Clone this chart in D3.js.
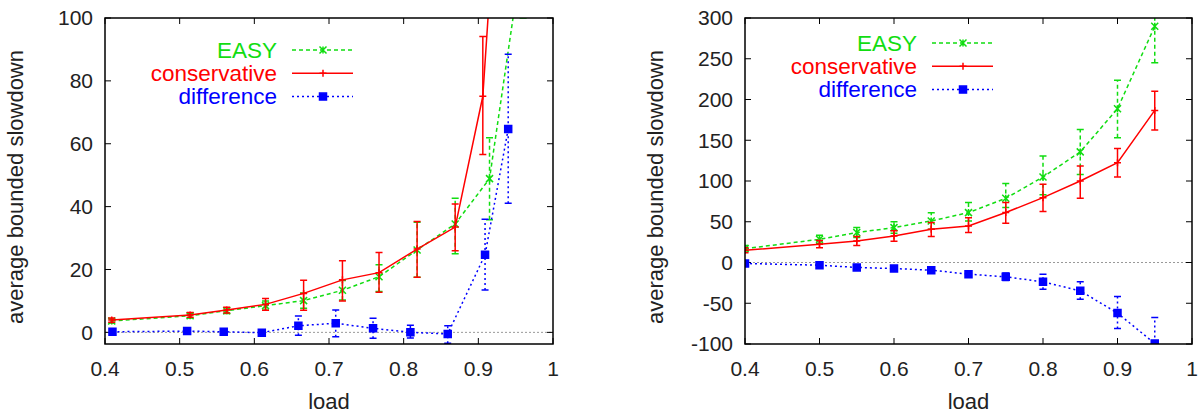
<!DOCTYPE html>
<html>
<head>
<meta charset="utf-8">
<script src="https://cdn.jsdelivr.net/npm/d3@7"></script>
<style>
  body { margin: 0; background: #fff; }
  svg { display: block; font-family: "Liberation Sans", Arial, sans-serif; }
</style>
</head>
<body>
<script>
// shared axes
const xTicks = [0.4, 0.5, 0.6, 0.7, 0.8, 0.9, 1];
const leftYTicks = [0, 20, 40, 60, 80, 100];
const rightYTicks = [-100, -50, 0, 50, 100, 150, 200, 250, 300];
const seriesNames = ["EASY", "conservative", "difference"];
const xLabel = "load";
const yLabel = "average bounded slowdown";

// left panel
const leftEasyLoad = [0.409, 0.514, 0.563, 0.615, 0.666, 0.718, 0.767, 0.818, 0.869, 0.915, 0.96];
const leftEasy = [3.6, 5.3, 6.9, 8.5, 10.1, 13.4, 17.7, 26.2, 34.5, 48.9, 122];
const leftEasyLo = [3.0, 4.6, 6.0, 7.0, 7.7, 10.3, 13.0, 17.5, 25.0, 35.8, 100];
const leftEasyHi = [4.3, 6.0, 7.8, 10.0, 12.5, 16.5, 21.5, 35.0, 42.7, 61.9, 145];

const leftConsLoad = [0.409, 0.514, 0.563, 0.615, 0.666, 0.718, 0.767, 0.818, 0.869, 0.906, 0.937];
const leftCons = [3.9, 5.5, 7.1, 8.9, 12.4, 16.7, 19.0, 26.5, 33.5, 75.1, 186];
const leftConsLo = [3.2, 4.8, 6.2, 7.0, 7.0, 10.0, 12.8, 17.5, 26.0, 56.6, 160];
const leftConsHi = [4.6, 6.3, 8.0, 10.8, 16.6, 22.8, 25.4, 35.3, 40.8, 94.1, 210];

const leftDiffLoad = [0.41, 0.51, 0.559, 0.61, 0.659, 0.709, 0.759, 0.809, 0.859, 0.909, 0.94];
const leftDiff = [0.2, 0.4, 0.2, -0.1, 2.1, 2.9, 1.3, 0.0, -0.5, 24.7, 64.7];
const leftDiffLo = [-0.3, -0.2, -0.4, -0.8, -0.9, -1.4, -1.9, -1.8, -3.5, 13.5, 41.1];
const leftDiffHi = [0.7, 1.0, 0.8, 0.6, 5.2, 7.1, 4.5, 2.3, 2.1, 36.0, 88.5];

// right panel
const rightLoad = [0.4, 0.5, 0.55, 0.6, 0.65, 0.7, 0.75, 0.8, 0.85, 0.9, 0.95];
const rightEasy = [17, 28.5, 36.7, 42.8, 51, 61.2, 78.8, 104.9, 135.7, 188.6, 289.8];
const rightEasyLo = [14, 23.5, 30.6, 36, 40.8, 51, 67.4, 83, 108, 153, 245];
const rightEasyHi = [21, 33.5, 43, 50, 61, 73.5, 97, 130.6, 163.3, 223.7, 305];

const rightCons = [15, 22.4, 26.5, 32.6, 40.8, 44.9, 61.3, 79.6, 100, 122.5, 186.6];
const rightConsLo = [12, 18, 21, 26, 32, 36.7, 48.2, 62.5, 78.8, 105, 162.5];
const rightConsHi = [18, 27, 32, 39, 49, 55, 73.5, 96, 118.4, 140, 210];

const rightDiff = [-1.2, -3.3, -6.1, -7.4, -9.4, -14.3, -17.6, -23.7, -34.8, -62.1, -99.3];
const rightDiffLo = [-2.5, -5, -9, -10, -13, -18, -22, -32.7, -45, -80.9, -135];
const rightDiffHi = [0, -1.5, -3, -4.5, -6, -10.5, -13, -14.3, -23.7, -41.7, -67.4];

const styles = {
  EASY: { color: "#11dd11", dash: "4,3", marker: "x" },
  conservative: { color: "#ff0000", dash: null, marker: "+" },
  difference: { color: "#0000ff", dash: "2,3", marker: "sq" },
};

function rows(load, val, lo, hi) {
  return load.map((x, i) => ({ x, y: val[i], lo: lo[i], hi: hi[i] }));
}

const panels = [
  {
    id: "L", left: 105, right: 553, yDomain: [-3.7, 100], yTicks: leftYTicks,
    legendX: 277, legendY: 50,
    series: [
      rows(leftEasyLoad, leftEasy, leftEasyLo, leftEasyHi),
      rows(leftConsLoad, leftCons, leftConsLo, leftConsHi),
      rows(leftDiffLoad, leftDiff, leftDiffLo, leftDiffHi),
    ],
  },
  {
    id: "R", left: 745, right: 1192, yDomain: [-100, 300], yTicks: rightYTicks,
    legendX: 917, legendY: 43,
    series: [
      rows(rightLoad, rightEasy, rightEasyLo, rightEasyHi),
      rows(rightLoad, rightCons, rightConsLo, rightConsHi),
      rows(rightLoad, rightDiff, rightDiffLo, rightDiffHi),
    ],
  },
];

const width = 1204, height = 416;
const plotTop = 18, plotBottom = 344;
const fontSize = 22;

const svg = d3.create("svg").attr("width", width).attr("height", height);

function markerPath(type) {
  const s = 3.5;
  if (type === "x") return `M${-s},${-s}L${s},${s}M${-s},${s}L${s},${-s}M0,${-s}L0,${s}`;
  if (type === "+") return `M${-s},0L${s},0M0,${-s}L0,${s}`;
  return `M-3.5,-3.5h7v7h-7z`;
}

function drawMarker(g, type, color) {
  g.append("path")
    .attr("d", markerPath(type))
    .attr("stroke", color)
    .attr("stroke-width", 1.5)
    .attr("stroke-dasharray", null)
    .attr("fill", type === "sq" ? color : "none");
}

for (const p of panels) {
  const x = d3.scaleLinear().domain([0.4, 1]).range([p.left, p.right]);
  const y = d3.scaleLinear().domain(p.yDomain).range([plotBottom, plotTop]);
  const g = svg.append("g");

  svg.append("clipPath").attr("id", "clip" + p.id)
    .append("rect")
    .attr("x", p.left).attr("y", plotTop)
    .attr("width", p.right - p.left).attr("height", plotBottom - plotTop);

  // zero line
  g.append("line")
    .attr("x1", p.left).attr("x2", p.right)
    .attr("y1", y(0)).attr("y2", y(0))
    .attr("stroke", "#999").attr("stroke-width", 1)
    .attr("stroke-dasharray", "2,2");

  // ticks (mirrored, inward)
  g.append("g").selectAll("path")
    .data(p.yTicks)
    .join("path")
    .attr("d", (d) => `M${p.left},${y(d)}h6M${p.right},${y(d)}h-6`)
    .attr("stroke", "#000").attr("stroke-width", 1);
  g.append("g").selectAll("path")
    .data(xTicks)
    .join("path")
    .attr("d", (d) => `M${x(d)},${plotBottom}v-6M${x(d)},${plotTop}v6`)
    .attr("stroke", "#000").attr("stroke-width", 1);

  // tick labels
  g.append("g").selectAll("text")
    .data(p.yTicks)
    .join("text")
    .attr("x", p.left - 12)
    .attr("y", (d) => y(d))
    .attr("dy", "0.35em")
    .attr("text-anchor", "end")
    .attr("font-size", fontSize - 1)
    .attr("fill", "#222")
    .text((d) => d);
  g.append("g").selectAll("text")
    .data(xTicks)
    .join("text")
    .attr("x", (d) => x(d))
    .attr("y", 376)
    .attr("text-anchor", "middle")
    .attr("font-size", fontSize - 1)
    .attr("fill", "#222")
    .text((d) => d);

  // axis titles
  g.append("text")
    .attr("x", (p.left + p.right) / 2)
    .attr("y", 409)
    .attr("text-anchor", "middle")
    .attr("font-size", fontSize)
    .attr("fill", "#222")
    .text(xLabel);
  g.append("text")
    .attr("transform", `translate(${p.left - 82},187) rotate(-90)`)
    .attr("text-anchor", "middle")
    .attr("font-size", fontSize)
    .attr("fill", "#222")
    .text(yLabel);

  // series
  const plot = g.append("g").attr("clip-path", `url(#clip${p.id})`);
  const line = d3.line().x((d) => x(d.x)).y((d) => y(d.y));
  p.series.forEach((data, i) => {
    const st = styles[seriesNames[i]];
    const s = plot.append("g")
      .attr("stroke", st.color)
      .attr("fill", "none")
      .attr("stroke-width", 1.5);
    s.append("path")
      .datum(data)
      .attr("d", line)
      .attr("stroke-dasharray", st.dash);
    s.selectAll(".err")
      .data(data)
      .join("path")
      .attr("class", "err")
      .attr("stroke-dasharray", st.dash)
      .attr("d", (d) => `M${x(d.x)},${y(d.lo)}V${y(d.hi)}`);
    s.selectAll(".cap")
      .data(data)
      .join("path")
      .attr("class", "cap")
      .attr("d", (d) =>
        `M${x(d.x) - 3.5},${y(d.lo)}h7M${x(d.x) - 3.5},${y(d.hi)}h7`);
    s.selectAll(".mk")
      .data(data)
      .join("g")
      .attr("class", "mk")
      .attr("transform", (d) => `translate(${x(d.x)},${y(d.y)})`)
      .each(function () { drawMarker(d3.select(this), st.marker, st.color); });
  });

  // legend
  seriesNames.forEach((name, i) => {
    const st = styles[name];
    const ly = p.legendY + i * 23.3;
    g.append("text")
      .attr("x", p.legendX)
      .attr("y", ly + 7.5)
      .attr("text-anchor", "end")
      .attr("font-size", fontSize + 0.5)
      .attr("fill", st.color)
      .text(name);
    g.append("line")
      .attr("x1", p.legendX + 15).attr("x2", p.legendX + 76)
      .attr("y1", ly).attr("y2", ly)
      .attr("stroke", st.color).attr("stroke-width", 1.5)
      .attr("stroke-dasharray", st.dash);
    const m = g.append("g").attr("transform", `translate(${p.legendX + 46},${ly})`);
    drawMarker(m, st.marker, st.color);
  });

  // frame
  g.append("rect")
    .attr("x", p.left).attr("y", plotTop)
    .attr("width", p.right - p.left).attr("height", plotBottom - plotTop)
    .attr("fill", "none")
    .attr("stroke", "#000").attr("stroke-width", 1.5);
}

document.body.appendChild(svg.node());
</script>
</body>
</html>
